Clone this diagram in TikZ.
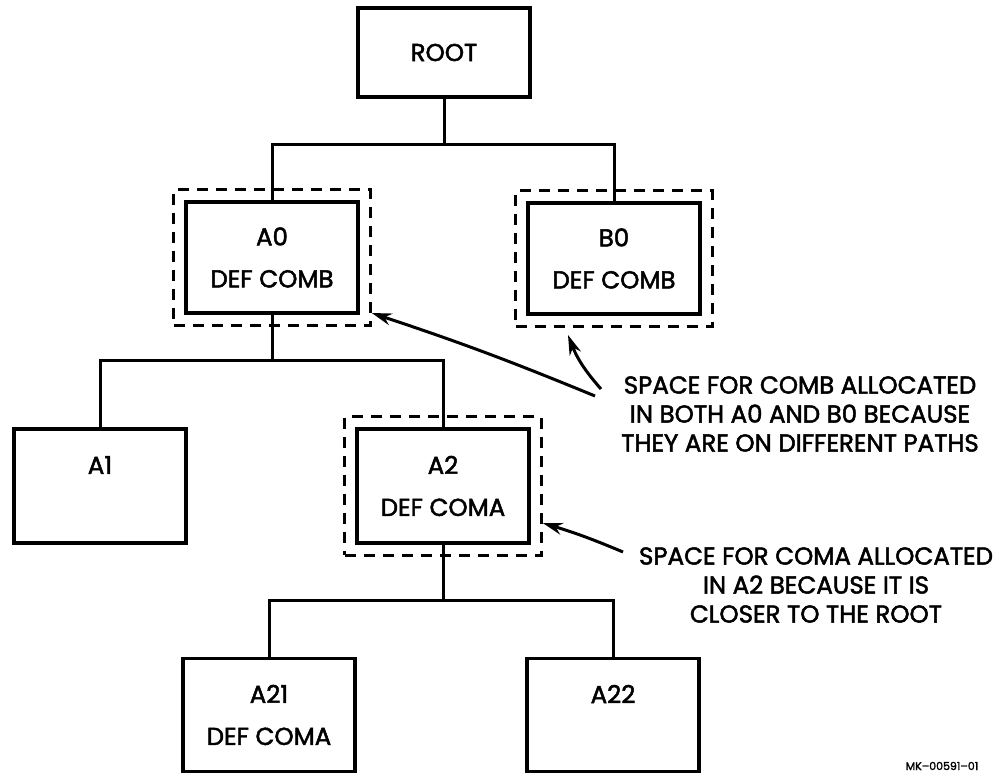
\documentclass[tikz,border=0pt]{standalone}
\usepackage{fontspec}
\setmainfont{Poppins}[FakeBold=2]
\usetikzlibrary{arrows.meta,fit}
\begin{document}
\begin{tikzpicture}[x=1pt,y=-1pt,
  every node/.style={font=\fontsize{24.5}{42}\selectfont},
  box/.style={draw,line width=3.4pt,minimum width=172pt,minimum height=111pt,
    align=center,inner sep=0pt},
  dashbox/.style={draw,line width=3pt,dash pattern=on 11pt off 8pt,inner sep=10.5pt},
  link/.style={line width=3pt},
  arr/.style={line width=3pt,-{Stealth[length=20pt,width=12pt]}},
  note/.style={align=center,font=\fontsize{24.5}{29}\selectfont}]
\useasboundingbox (0,0) rectangle (1003,773);
% levels
\coordinate (l1) at (0,144);
\coordinate (l2) at (0,360);
\coordinate (l3) at (0,600);
% boxes
\node[box,minimum height=89pt] (root) at (444,52.5) {ROOT};
\node[box] (a0) at (272,257.5) {A0\\DEF COMB};
\node[box] (b0) at (614,258.5) {B0\\DEF COMB};
\node[box,minimum height=114pt] (a1) at (100,486) {A1\\\phantom{X}};
\node[box,minimum height=114pt] (a2) at (443,486) {A2\\DEF COMA};
\node[box,minimum height=113pt] (a21) at (269,715) {A21\\DEF COMA};
\node[box,minimum height=113pt] (a22) at (613,715) {A22\\\phantom{X}};
% dashed surrounds
\node[dashbox,fit=(a0)] (a0d) {};
\node[dashbox,fit=(b0)] (b0d) {};
\node[dashbox,fit=(a2)] (a2d) {};
% tree links
\draw[link] (root.south) -- (root.south |- l1) -| (a0.north);
\draw[link] (root.south |- l1) -| (b0.north);
\draw[link] (a0.south) -- (a0.south |- l2) -| (a1.north);
\draw[link] (a0.south |- l2) -| (a2.north);
\draw[link] (a2.south) -- (a2.south |- l3) -| (a21.north);
\draw[link] (a2.south |- l3) -| (a22.north);
% notes
\node[note] (n1) at (800,414) {SPACE FOR COMB ALLOCATED\\IN BOTH A0 AND B0 BECAUSE\\THEY ARE ON DIFFERENT PATHS};
\node[note] (n2) at (816,585) {SPACE FOR COMA ALLOCATED\\IN A2 BECAUSE IT IS\\CLOSER TO THE ROOT};
\node[font=\fontsize{11}{13}\selectfont,anchor=base] (mk) at (942,770) {MK--00591--01};
% arrows
\coordinate (t1) at (595,396);
\coordinate (t2) at (601,389);
\coordinate (t3) at (623,552);
\draw[arr] (t1) to[bend right=2] (a0d.east |- 0,313);
\draw[arr] (t2) to[bend left=10] (568,335);
\draw[arr] (t3) to[bend right=3] (a2d.east |- 0,523);
\end{tikzpicture}
\end{document}
